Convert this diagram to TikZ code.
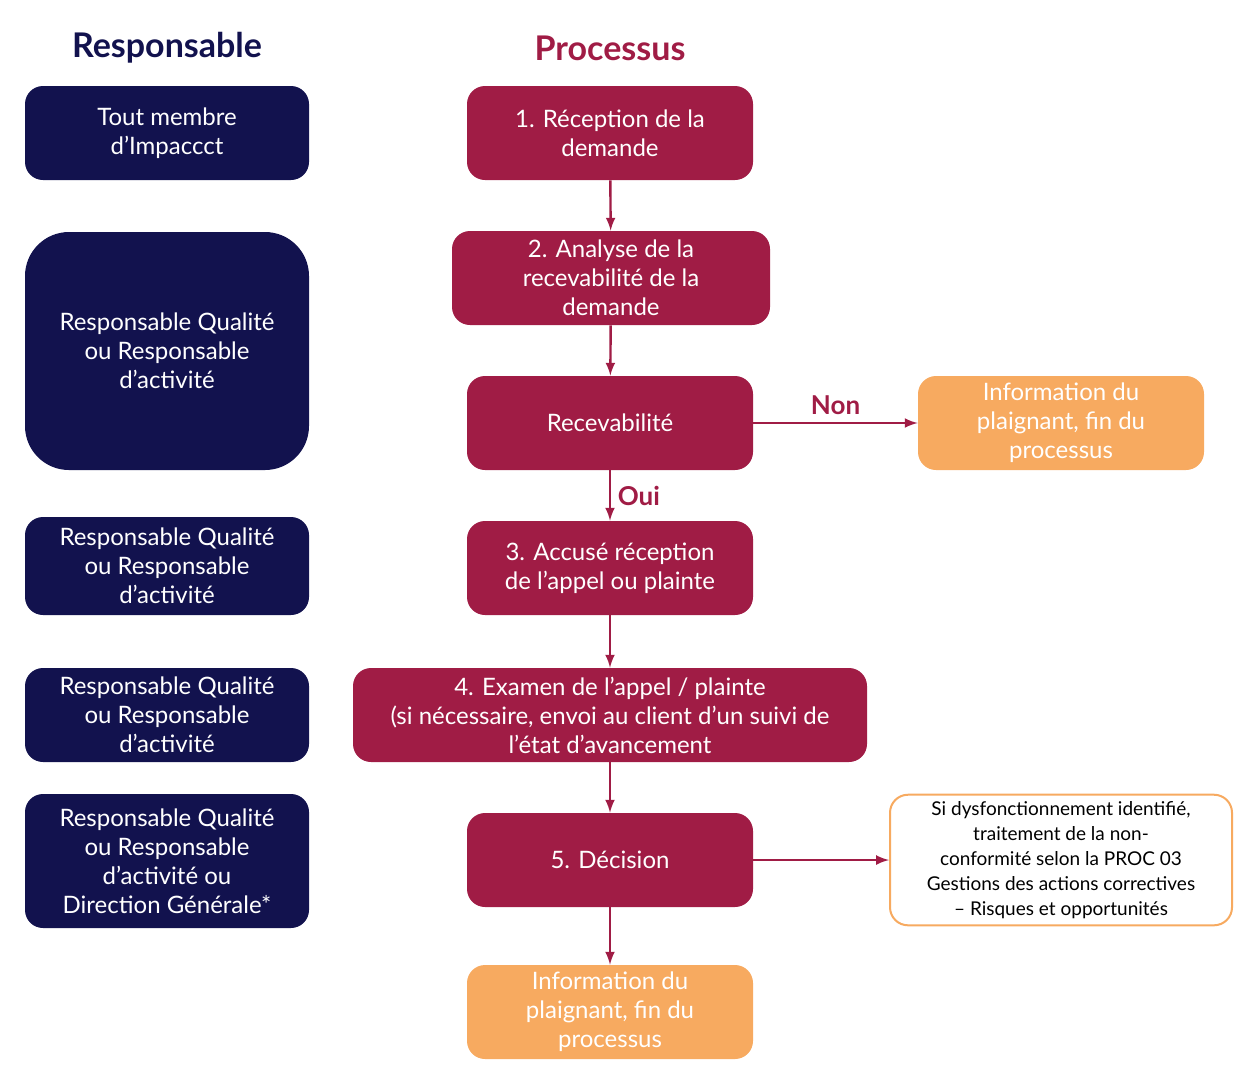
\documentclass[tikz,border=0pt]{standalone}
\usepackage{fontspec}
\setmainfont{Lato}
\usepackage{tikz}
\usetikzlibrary{positioning}
\definecolor{navy}{HTML}{12124E}
\definecolor{crimson}{HTML}{A01C45}
\definecolor{peach}{HTML}{F7AA60}
\tikzset{resp/.style={rectangle,rounded corners=9pt,fill=navy,text=white,minimum width=142pt,minimum height=47pt,align=center,font=\fontsize{12}{14.5}\selectfont},
         proc/.style={rectangle,rounded corners=9pt,fill=crimson,text=white,minimum width=143pt,minimum height=47pt,align=center,font=\fontsize{12}{14.5}\selectfont},
         fin/.style={proc,fill=peach},
         note/.style={rectangle,rounded corners=9pt,draw=peach,line width=1pt,fill=white,minimum width=171pt,minimum height=63pt,align=center,font=\fontsize{9.5}{12.5}\selectfont},
         head/.style={font=\bfseries\fontsize{17}{20}\selectfont}}

\begin{document}
\begin{tikzpicture}[x=0.5pt,y=-0.5pt,>=latex]
        \useasboundingbox (0,0) rectangle (1251,1083);
        \node[head,text=navy] (hr) at (167,48) {Responsable};
        \node[head,text=crimson] (hp) at (610,48) {Processus};

        \node[resp] (l1) at (167,133) {Tout membre\\d’Impaccct};
        \node[resp,minimum height=119pt,rounded corners=22pt] (l2) at (167,351) {Responsable Qualité\\ou Responsable\\d’activité};
        \node[resp,minimum height=49pt] (l3) at (167,566) {Responsable Qualité\\ou Responsable\\d’activité};
        \node[resp] (l4) at (167,715) {Responsable Qualité\\ou Responsable\\d’activité};
        \node[resp,minimum height=67pt] (l5) at (167,861) {Responsable Qualité\\ou Responsable\\d’activité ou\\Direction Générale*};

        \node[proc] (p1) at (610,133) {1. Réception de la\\demande};
        \node[proc,minimum width=159pt] (p2) at (611,278) {2. Analyse de la\\recevabilité de la\\demande};
        \node[proc] (rec) at (610,423) {Recevabilité};
        \node[proc] (p3) at (610,568) {3. Accusé réception\\de l’appel ou plainte};
        \node[proc,minimum width=257pt] (p4) at (610,715) {4. Examen de l’appel / plainte\\(si nécessaire, envoi au client d’un suivi de\\l’état d’avancement};
        \node[proc] (p5) at (610,860) {5. Décision};
        \node[fin] (fin2) at (610,1012) {Information du\\plaignant, fin du\\processus};
        \node[fin] (fin1) at (1061,423) {Information du\\plaignant, fin du\\processus};
        \node[note] (nc) at (1061,860) {Si dysfonctionnement identifié,\\traitement de la non-\\conformité selon la PROC 03\\Gestions des actions correctives\\– Risques et opportunités};

        \draw[->,crimson,line width=1.2pt] (p1) -- (p2);
        \draw[->,crimson,line width=1.2pt] (p2) -- (rec);
        \draw[->,crimson,line width=1.2pt] (rec) -- node[right,font=\bfseries\fontsize{13}{15}\selectfont]{Oui} (p3);
        \draw[->,crimson,line width=1.2pt] (rec) -- node[above,font=\bfseries\fontsize{13}{15}\selectfont,pos=0.5]{Non} (fin1);
        \draw[->,crimson,line width=1.2pt] (p3) -- (p4);
        \draw[->,crimson,line width=1.2pt] (p4) -- (p5);
        \draw[->,crimson,line width=1.2pt] (p5) -- (nc);
        \draw[->,crimson,line width=1.2pt] (p5) -- (fin2);
    \end{tikzpicture}
\end{document}
